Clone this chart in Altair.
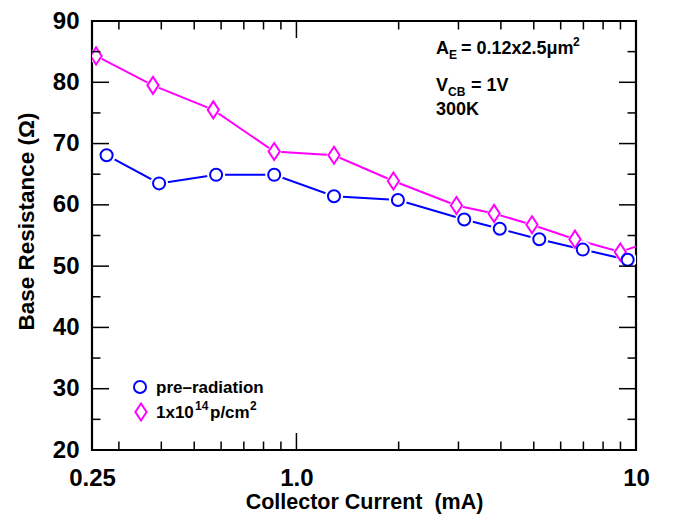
import altair as alt
import pandas as pd

FONT = "Liberation Sans"

# ---- data ----
current_pre = [0.276, 0.394, 0.58, 0.86, 1.29, 1.99, 3.12, 3.97, 5.19, 6.97, 9.45]
rb_pre = [68.1, 63.5, 64.9, 64.9, 61.4, 60.8, 57.6, 56.1, 54.4, 52.7, 51.05]

current_rad = [0.257, 0.378, 0.569, 0.86, 1.29, 1.93, 2.96, 3.82, 4.94, 6.61, 8.99, 11.0]
rb_rad = [84.3, 79.5, 75.5, 68.7, 68.1, 63.9, 59.9, 58.6, 56.75, 54.4, 52.3, 54.0]

x_label_values = [0.25, 1, 10]
x_minor = [0.3, 0.4, 0.5, 0.6, 0.7, 0.8, 0.9, 2, 3, 4, 5, 6, 7, 8, 9]
x_major = [1]
y_label_values = [20, 30, 40, 50, 60, 70, 80, 90]
y_major = [30, 40, 50, 60, 70, 80]
y_minor = [25, 35, 45, 55, 65, 75, 85]

W, H = 544, 429
BLUE = "#0000ff"
MAGENTA = "#ff00ff"
DIAMOND = "M0,-1L0.66,0L0,1L-0.66,0Z"
X_TITLE = "Collector Current\u00a0\u00a0(mA)"
Y_TITLE = "Base Resistance (Ω)"

pre = pd.DataFrame({"current": current_pre, "rb": rb_pre})
rad = pd.DataFrame({"current": current_rad, "rb": rb_rad})

xscale = alt.Scale(type="log", domain=[0.25, 10], nice=False)
yscale = alt.Scale(domain=[20, 90], nice=False, zero=False)

x_axis = alt.Axis(
    values=x_label_values,
    labelExpr="datum.value == 1 ? '1.0' : (datum.value == 10 ? '10' : '0.25')",
    title=X_TITLE,
    grid=False, domain=False, ticks=False, tickSize=0,
    labelFont=FONT, labelFontSize=24, labelFontWeight="bold", labelColor="black",
    labelPadding=16, labelFlush=False, labelOverlap=False,
    titleFont=FONT, titleFontSize=21.5, titleFontWeight="bold", titleColor="black",
    titleY=58.5, titleBaseline="alphabetic",
)
y_axis = alt.Axis(
    values=y_label_values,
    title=Y_TITLE,
    grid=False, domain=False, ticks=False, tickSize=0,
    labelFont=FONT, labelFontSize=24, labelFontWeight="bold", labelColor="black",
    labelPadding=13, labelFlush=False, labelOverlap=False,
    titleFont=FONT, titleFontSize=22.5, titleFontWeight="bold", titleColor="black",
    titleX=-66, titleY=200, titleBaseline="middle", titleAngle=270,
)


def X(field):
    return alt.X(field, scale=xscale, axis=x_axis, title=X_TITLE)


def Y(field):
    return alt.Y(field, scale=yscale, axis=y_axis, title=Y_TITLE)


line_rad = alt.Chart(rad).mark_line(color=MAGENTA, strokeWidth=2, clip=True).encode(
    x=X("current:Q"), y=Y("rb:Q"),
)
line_pre = alt.Chart(pre).mark_line(color=BLUE, strokeWidth=2, clip=True).encode(
    x=X("current:Q"), y=Y("rb:Q"),
)


def pts(df, shape, size, color, filled, sw):
    kw = dict(shape=shape, size=size, clip=True, opacity=1)
    if filled:
        mk = alt.Chart(df).mark_point(filled=True, fill="white", strokeWidth=0, **kw)
    else:
        mk = alt.Chart(df).mark_point(filled=False, stroke=color, strokeWidth=sw, **kw)
    return mk.encode(x=X("current:Q"), y=Y("rb:Q"))


back_rad = pts(rad, DIAMOND, 520, MAGENTA, True, 0)
back_pre = pts(pre, "circle", 330, BLUE, True, 0)
mark_rad = pts(rad, DIAMOND, 290, MAGENTA, False, 2)
mark_pre = pts(pre, "circle", 145, BLUE, False, 2)


def xticks(vals, length, top):
    d = pd.DataFrame({"current": vals})
    y1, y2 = (0, length) if top else (H, H - length)
    return alt.Chart(d).mark_rule(color="black", strokeWidth=1.5).encode(
        x=X("current:Q"), y=alt.value(y1), y2=alt.value(y2),
    )


def yticks(vals, length, right):
    d = pd.DataFrame({"rb": vals})
    x1, x2 = (W, W - length) if right else (0, length)
    return alt.Chart(d).mark_rule(color="black", strokeWidth=1.5).encode(
        y=Y("rb:Q"), x=alt.value(x1), x2=alt.value(x2),
    )


ticks = [
    xticks(x_major, 17, False), xticks(x_minor, 8.5, False),
    xticks(x_major, 17, True), xticks(x_minor, 8.5, True),
    yticks(y_major, 17, False), yticks(y_minor, 8.5, False),
    yticks(y_major, 17, True), yticks(y_minor, 8.5, True),
]


def txt(s, x, y, size, color="black"):
    return alt.Chart(alt.Data(values=[{}])).mark_text(
        text=s, font=FONT, fontSize=size, fontWeight="bold", color=color,
        align="left", baseline="alphabetic",
    ).encode(x=alt.value(x), y=alt.value(y))


def sym(shape, x, y, size, color):
    return alt.Chart(alt.Data(values=[{}])).mark_point(
        shape=shape, size=size, filled=False, stroke=color, strokeWidth=2, opacity=1,
    ).encode(x=alt.value(x), y=alt.value(y))


annotations = [
    txt("A", 344, 33, 18), txt("E", 357, 38, 12),
    txt("= 0.12x2.5μm", 369, 33, 18), txt("2", 481, 25, 12),
    txt("V", 344, 70, 18), txt("CB", 356, 75, 12), txt("= 1V", 379, 70, 18),
    txt("300K", 344, 94, 18),
    sym("circle", 48, 366, 145, BLUE), txt("pre–radiation", 64, 372, 17),
    sym(DIAMOND, 49, 391, 290, MAGENTA),
    txt("1x10", 64, 397, 17), txt("14", 103, 389, 12),
    txt("p/cm", 118, 397, 17), txt("2", 158, 389, 12),
]

chart = alt.layer(
    line_rad, line_pre, back_rad, back_pre, mark_rad, mark_pre, *ticks, *annotations
).properties(
    width=W, height=H,
    padding={"left": 84, "top": 13, "right": 29, "bottom": 66},
    autosize=alt.AutoSizeParams(type="none"),
    background="white",
).configure_view(
    stroke="black", strokeWidth=2.2
)

chart.save("out.html", embed_options={"renderer": "svg", "actions": False})
